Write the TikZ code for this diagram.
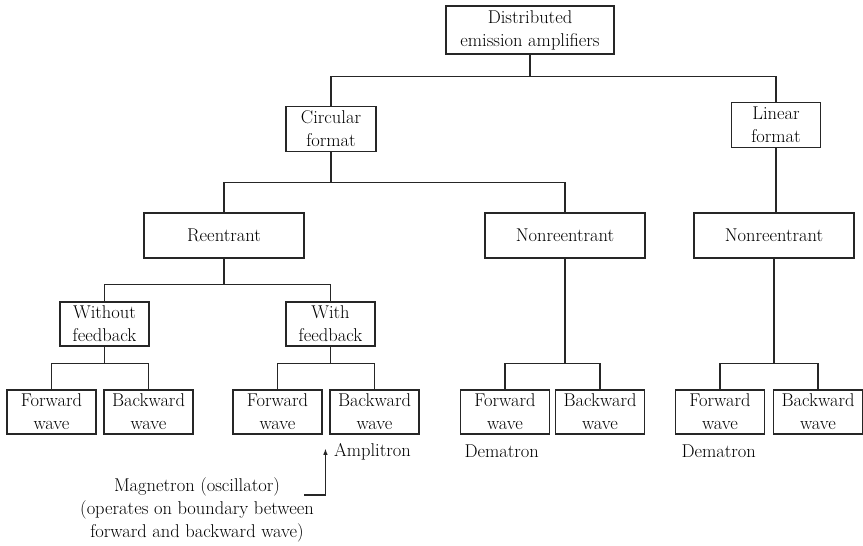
\documentclass[tikz,border=0pt]{standalone}
\usepackage{fontspec}
\usetikzlibrary{positioning,arrows.meta}

\begin{document}
\begin{tikzpicture}[
    x=1pt, y=1pt,
    color=black!85,
    line width=1.1pt,
    font=\fontsize{18.5}{23}\selectfont,
    every node/.style={text=black},
    box/.style={draw, align=center, inner sep=0pt, minimum width=89pt, minimum height=44pt},
    wide/.style={box, minimum width=160pt, minimum height=45pt},
    lbl/.style={inner sep=0pt, align=center},
    link/.style={line width=1.1pt},
    arrow/.style={-{Latex[length=2.2mm,width=1.6mm]}, line width=1.1pt}
]
\useasboundingbox (0,0) rectangle (863,546);

% upper levels
\node[box, minimum width=168pt, minimum height=48pt] (dea) at (530,516) {Distributed\\emission amplifiers};
\node[box, minimum width=90pt, minimum height=45pt] (circ) at (331,417) {Circular\\format};
\node[box, minimum height=45pt] (lin) at (776,421) {Linear\\format};
\node[wide] (reent) at (224,310.5) {Reentrant};
\node[wide] (nonre) at (565,310.5) {Nonreentrant};
\node[wide] (linnon) at (774,310.5) {Nonreentrant};
\node[box] (wofb) at (104.5,222) {Without\\feedback};
\node[box] (wfb) at (330.5,222) {With\\feedback};

% wave types
\node[box] (wofwd) at (51.5,134) {Forward\\wave};
\node[box] (wobwd) at (148.5,134) {Backward\\wave};
\node[box] (wfwd) at (277.5,134) {Forward\\wave};
\node[box] (wbwd) at (374.5,134) {Backward\\wave};
\node[box] (nfwd) at (505,134) {Forward\\wave};
\node[box] (nbwd) at (600,134) {Backward\\wave};
\node[box] (lfwd) at (720,134) {Forward\\wave};
\node[box] (lbwd) at (818,134) {Backward\\wave};

% device names
\node[lbl, anchor=west] (amp) at ([xshift=4pt, yshift=-17pt]wbwd.south west) {Amplitron};
\node[lbl, anchor=west] (dem1) at ([xshift=4pt, yshift=-17pt]nfwd.south west) {Dematron};
\node[lbl, anchor=west] (dem2) at ([xshift=6pt, yshift=-17pt]lfwd.south west) {Dematron};
\node[lbl] (mag) at (197,36) {Magnetron (oscillator)\\(operates on boundary between\\forward and backward wave)};
\coordinate (magend) at (304,51);
\coordinate (amptip) at ([xshift=-4pt, yshift=-14pt]wbwd.south west);

% tree links
\draw[link] (dea.south) -- ++(0,-22) -| (circ.north);
\draw[link] (dea.south) -- ++(0,-22) -| (lin.north);
\draw[link] (circ.south) -- ++(0,-30.5) -| (reent.north);
\draw[link] (circ.south) -- ++(0,-30.5) -| (nonre.north);
\draw[link] (lin.south) -- (lin.south |- linnon.north);
\draw[link] (reent.south) -- ++(0,-26) -| (wofb.north);
\draw[link] (reent.south) -- ++(0,-26) -| (wfb.north);
\draw[link] (wofb.south) -- ++(0,-17) -| (wofwd.north);
\draw[link] (wofb.south) -- ++(0,-17) -| (wobwd.north);
\draw[link] (wfb.south) -- ++(0,-17) -| (wfwd.north);
\draw[link] (wfb.south) -- ++(0,-17) -| (wbwd.north);
\draw[link] (nonre.south) -- ++(0,-105) -| (nfwd.north);
\draw[link] (nonre.south) -- ++(0,-105) -| (nbwd.north);
\draw[link] (linnon.south) -- ++(0,-105) -| (lfwd.north);
\draw[link] (linnon.south) -- ++(0,-105) -| (lbwd.north);

\draw[arrow] (magend) -| (amptip);
\end{tikzpicture}
\end{document}
